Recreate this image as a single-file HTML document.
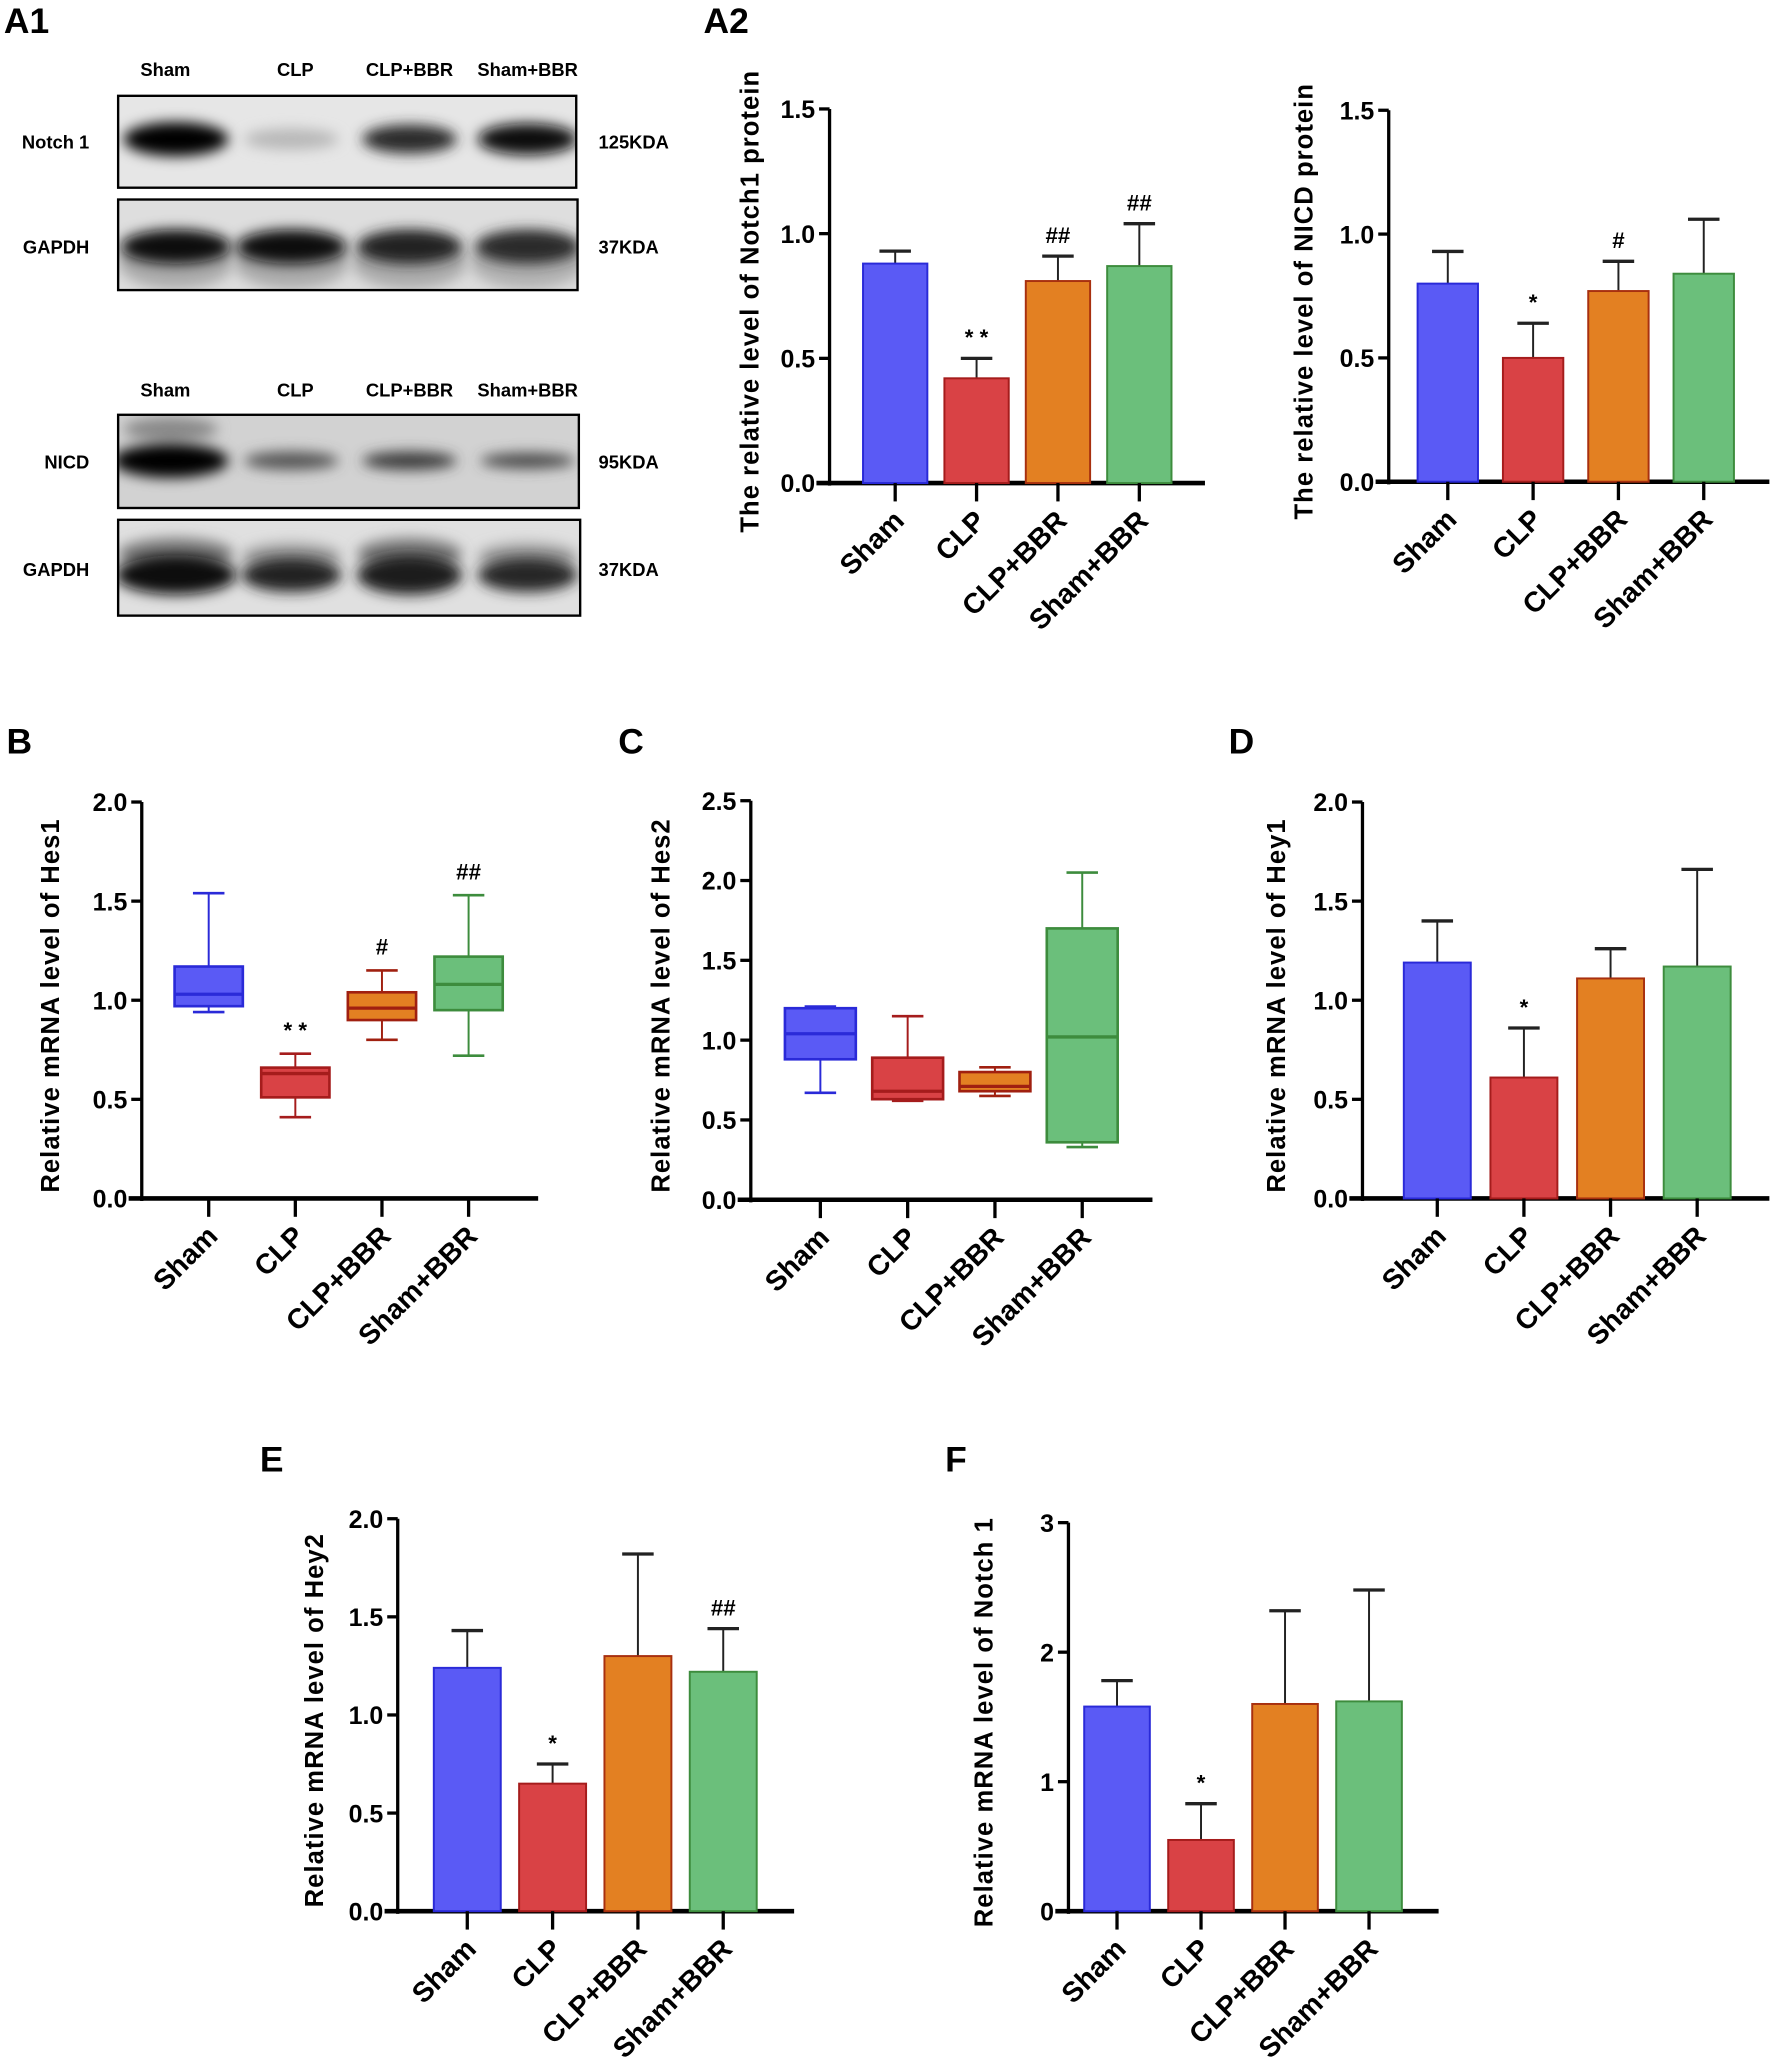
<!DOCTYPE html>
<html><head><meta charset="utf-8"><style>
html,body{margin:0;padding:0;background:#fff;}
svg{display:block;}
text{font-family:"Liberation Sans",Arial,sans-serif;font-weight:bold;fill:#000;}
</style></head><body>
<svg id="fig" width="1772" height="2059" viewBox="0 0 1350 1568.6" preserveAspectRatio="none" xmlns="http://www.w3.org/2000/svg">
<defs>
<filter id="blur" x="-50%" y="-100%" width="200%" height="300%"><feGaussianBlur stdDeviation="5"/></filter>
</defs>
<g id="root"></g>
</svg>
<script>
// ---------- data ----------
const categories = ["Sham","CLP","CLP+BBR","Sham+BBR"];
const notch1ProteinMean = [0.88,0.42,0.81,0.87];
const notch1ProteinErr = [0.05,0.08,0.10,0.17];
const notch1ProteinMarks = ["","* *","##","##"];
const nicdProteinMean = [0.80,0.50,0.77,0.84];
const nicdProteinErr = [0.13,0.14,0.12,0.22];
const nicdProteinMarks = ["","*","#",""];
const hes1Min = [0.94,0.41,0.80,0.72];
const hes1Q1 = [0.97,0.51,0.90,0.95];
const hes1Med = [1.03,0.63,0.96,1.08];
const hes1Q3 = [1.17,0.66,1.04,1.22];
const hes1Max = [1.54,0.73,1.15,1.53];
const hes1Marks = ["","* *","#","##"];
const hes2Min = [0.67,0.62,0.65,0.33];
const hes2Q1 = [0.88,0.63,0.68,0.36];
const hes2Med = [1.04,0.68,0.71,1.02];
const hes2Q3 = [1.20,0.89,0.80,1.70];
const hes2Max = [1.21,1.15,0.83,2.05];
const hey1Mean = [1.19,0.61,1.11,1.17];
const hey1Err = [0.21,0.25,0.15,0.49];
const hey1Marks = ["","*","",""];
const hey2Mean = [1.24,0.65,1.30,1.22];
const hey2Err = [0.19,0.10,0.52,0.22];
const hey2Marks = ["","*","","##"];
const notch1MrnaMean = [1.58,0.55,1.60,1.62];
const notch1MrnaErr = [0.20,0.28,0.72,0.86];
const notch1MrnaMarks = ["","*","",""];
const ticks15 = ["0.0","0.5","1.0","1.5"];
const ticks20 = ["0.0","0.5","1.0","1.5","2.0"];
const ticks25 = ["0.0","0.5","1.0","1.5","2.0","2.5"];
const ticks3 = ["0","1","2","3"];

const fills = ["#5a5af5","#d94245","#e38022","#6bbf7b"];
const strokes = ["#2a2ad8","#a51c1c","#a8300f","#3d8c3d"];
const NS = "http://www.w3.org/2000/svg";
const root = document.getElementById("root");
function mk(tag, attrs, parent){const e=document.createElementNS(NS,tag);for(const k in attrs)e.setAttribute(k,attrs[k]);(parent||root).appendChild(e);return e;}
function txt(s, attrs, parent){const e=mk("text",attrs,parent);e.textContent=s;return e;}

function panelLabel(s,x,y){const t=txt(s,{x:x,y:y,"font-size":27});

}

function axes(g,cfg,ticks,tickVals){
  const {x0,y0,yTop,xEnd,max,title,titleX,fs}=cfg;
  const ys=v=>y0-(v/max)*(y0-yTop);
  const ya=mk("line",{x1:x0,y1:y0+2,x2:x0,y2:yTop,stroke:"#000","stroke-width":2.5},g);
  
  
  const xa=mk("line",{x1:x0-10,y1:y0,x2:xEnd,y2:y0,stroke:"#000","stroke-width":3.5},g);
  
  
  ticks.forEach((t,i)=>{const v=tickVals[i];const y=ys(v);
    mk("line",{x1:x0-8,y1:y,x2:x0,y2:y,stroke:"#000","stroke-width":2.5},g);
    const tl=txt(t,{x:x0-11,y:y+7,"font-size":19,"text-anchor":"end"},g);
    
    
  });
  const tt=txt(title,{x:0,y:0,"font-size":fs||19.5,"text-anchor":"middle","letter-spacing":"0.8",transform:`translate(${titleX},${(y0+yTop)/2+4}) rotate(-90)`},g);
  
  
  return ys;
}
function xcats(g,cfg,centers){
  categories.forEach((c,i)=>{const cx=centers[i];
    mk("line",{x1:cx,y1:cfg.y0,x2:cx,y2:cfg.y0+14,stroke:"#000","stroke-width":2.5},g);
    const t=txt(c,{x:0,y:0,"font-size":21.5,"text-anchor":"end",transform:`translate(${cx+8},${cfg.y0+30}) rotate(-45)`},g);
    
    
  });
}
function barChart(name,cfg,means,errs,marks,ticks){
  const g=mk("g",{});
  
  
  const tickVals=ticks.map(Number);
  const ys=axes(g,cfg,ticks,tickVals);
  const centers=categories.map((c,i)=>cfg.c0+i*cfg.step);
  means.forEach((m,i)=>{const cx=centers[i],w=cfg.bw;
    const top=ys(m+errs[i]);
    mk("line",{x1:cx,y1:ys(m),x2:cx,y2:top,stroke:"#222","stroke-width":1.5},g);
    mk("line",{x1:cx-12,y1:top,x2:cx+12,y2:top,stroke:"#222","stroke-width":2.5},g);
    const r=mk("rect",{x:cx-w/2,y:ys(m),width:w,height:cfg.y0-ys(m),fill:fills[i],stroke:strokes[i],"stroke-width":1.5},g);
    
    
    if(marks&&marks[i]){const t=txt(marks[i],{x:cx,y:top-10,"font-size":17,"text-anchor":"middle"},g);
      
      }
  });
  xcats(g,cfg,centers);
}
function boxChart(name,cfg,mins,q1,med,q3,maxs,marks,ticks){
  const g=mk("g",{});
  
  
  const tickVals=ticks.map(Number);
  const ys=axes(g,cfg,ticks,tickVals);
  const centers=categories.map((c,i)=>cfg.c0+i*cfg.step);
  mins.forEach((mn,i)=>{const cx=centers[i],w=cfg.bw,s=strokes[i]==="#a8300f"?"#a02010":strokes[i];
    mk("line",{x1:cx,y1:ys(mn),x2:cx,y2:ys(maxs[i]),stroke:s,"stroke-width":1.5},g);
    mk("line",{x1:cx-12,y1:ys(mn),x2:cx+12,y2:ys(mn),stroke:s,"stroke-width":2},g);
    mk("line",{x1:cx-12,y1:ys(maxs[i]),x2:cx+12,y2:ys(maxs[i]),stroke:s,"stroke-width":2},g);
    const b=mk("rect",{x:cx-w/2,y:ys(q3[i]),width:w,height:ys(q1[i])-ys(q3[i]),fill:fills[i],stroke:s,"stroke-width":2},g);
    
    
    mk("line",{x1:cx-w/2,y1:ys(med[i]),x2:cx+w/2,y2:ys(med[i]),stroke:s,"stroke-width":2.5},g);
    if(marks&&marks[i]){const t=txt(marks[i],{x:cx,y:ys(maxs[i])-12,"font-size":17,"text-anchor":"middle"},g);
      
      }
  });
  xcats(g,cfg,centers);
}

// ---------- western blots ----------
function blot(name,x,y,w,h,bg,bands,cy){
  const g=mk("g",{});
  
  
  mk("rect",{x:x,y:y,width:w,height:h,fill:bg},g);
  const inner=mk("g",{},g);
  const cp=mk("clipPath",{id:"cp-"+name},g);
  mk("rect",{x:x,y:y,width:w,height:h},cp);
  inner.setAttribute("clip-path","url(#cp-"+name+")");
  bands.forEach(b=>{mk("ellipse",{cx:b[0],cy:cy+(b[4]||0),rx:b[1],ry:b[2],fill:b[3],filter:"url(#blur)"},inner);});
  mk("rect",{x:x,y:y,width:w,height:h,fill:"none",stroke:"#000","stroke-width":1.8},g);
}
panelLabel("A1",3,25);
panelLabel("A2",536,25);
const laneX=[126,225,312,402];
[53,297].forEach((ly,k)=>{categories.forEach((c,i)=>{const t=txt(c,{x:laneX[i],y:ly+5,"font-size":14,"text-anchor":"middle"});
  
  });});
blot("notch1-blot",90,73,349,70,"#e6e6e6",[[134,40,13,"#000"],[222,36,8,"#b8b8b8"],[312,36,11,"#2a2a2a"],[402,38,12,"#111"]],106);
blot("gapdh-blot-1",90,152,350,69,"#dedede",[[134,44,20,"#aaa",12],[222,44,20,"#aaa",12],[312,44,20,"#aaa",12],[402,44,20,"#b0b0b0",12],[134,42,13,"#111"],[222,42,13,"#0c0c0c"],[312,40,13,"#222"],[402,40,13,"#2a2a2a"]],188);
blot("nicd-blot",90,316,351,71,"#d2d2d2",[[130,36,9,"#888",-24],[130,44,13,"#000"],[222,36,7,"#555"],[312,36,7,"#3a3a3a"],[402,36,6,"#4a4a4a"]],351);
blot("gapdh-blot-2",90,396,352,73,"#e0e0e0",[[134,44,12,"#777",-16],[312,40,12,"#777",-16],[222,38,10,"#999",-14],[402,38,10,"#999",-14],[134,46,15,"#0a0a0a"],[222,38,13,"#222"],[312,40,15,"#1a1a1a"],[402,38,13,"#252525"]],438);
[["Notch 1",108,"125KDA"],["GAPDH",188,"37KDA"],["NICD",352,"95KDA"],["GAPDH",434,"37KDA"]].forEach(r=>{
  const a=txt(r[0],{x:68,y:r[1]+5,"font-size":14,"text-anchor":"end"});
  
  
  const b=txt(r[2],{x:456,y:r[1]+5,"font-size":14});
  
  
});

// ---------- charts ----------
barChart("notch1-protein-chart",{x0:632,y0:368,yTop:83,xEnd:918,max:1.5,title:"The relative level of Notch1 protein",titleX:578,c0:682,step:62,bw:49},notch1ProteinMean,notch1ProteinErr,notch1ProteinMarks,ticks15);
barChart("nicd-protein-chart",{x0:1058,y0:367,yTop:84,xEnd:1348,max:1.5,title:"The relative level of NICD protein",titleX:1000,c0:1103,step:65,bw:46},nicdProteinMean,nicdProteinErr,nicdProteinMarks,ticks15);

panelLabel("B",5,574); panelLabel("C",471,574); panelLabel("D",936,574);
boxChart("hes1-chart",{x0:108,y0:913,yTop:611,xEnd:410,max:2.0,title:"Relative mRNA level of Hes1",titleX:45,c0:159,step:66,bw:52},hes1Min,hes1Q1,hes1Med,hes1Q3,hes1Max,hes1Marks,ticks20);
boxChart("hes2-chart",{x0:572,y0:914,yTop:610,xEnd:878,max:2.5,title:"Relative mRNA level of Hes2",titleX:510,c0:625,step:66.5,bw:54},hes2Min,hes2Q1,hes2Med,hes2Q3,hes2Max,null,ticks25);
barChart("hey1-chart",{x0:1038,y0:913,yTop:611,xEnd:1348,max:2.0,title:"Relative mRNA level of Hey1",titleX:979,c0:1095,step:66,bw:51},hey1Mean,hey1Err,hey1Marks,ticks20);

panelLabel("E",198,1121); panelLabel("F",720,1121);
barChart("hey2-chart",{x0:303,y0:1456,yTop:1157,xEnd:605,max:2.0,title:"Relative mRNA level of Hey2",titleX:246,c0:356,step:65,bw:51},hey2Mean,hey2Err,hey2Marks,ticks20);
barChart("notch1-mrna-chart",{x0:814,y0:1456,yTop:1160,xEnd:1096,max:3,title:"Relative mRNA level of Notch 1",titleX:756,c0:851,step:64,bw:50},notch1MrnaMean,notch1MrnaErr,notch1MrnaMarks,ticks3);
</script>
</body></html>
